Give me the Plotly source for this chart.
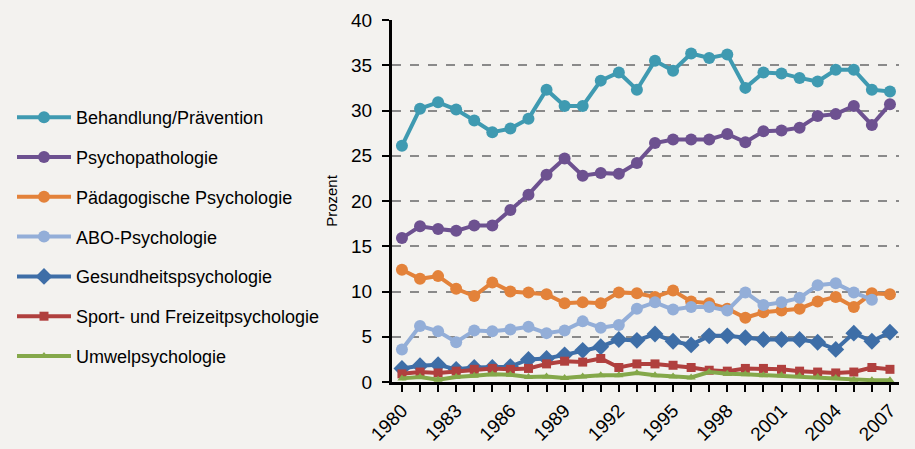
import plotly.graph_objects as go

years = list(range(1980, 2008))

behandlung = [26.1, 30.2, 30.9, 30.1, 28.9, 27.6, 28.0, 29.1, 32.3, 30.5, 30.5, 33.3, 34.2, 32.3,
              35.5, 34.4, 36.3, 35.8, 36.2, 32.5, 34.2, 34.1, 33.6, 33.2, 34.5, 34.5, 32.3, 32.1]
psychopathologie = [15.9, 17.2, 16.9, 16.7, 17.3, 17.3, 19.0, 20.7, 22.9, 24.7, 22.8, 23.1, 23.0, 24.2,
                    26.4, 26.8, 26.8, 26.8, 27.4, 26.5, 27.7, 27.8, 28.1, 29.4, 29.6, 30.5, 28.4, 30.7]
paedagogisch = [12.4, 11.4, 11.7, 10.3, 9.5, 11.0, 10.0, 9.9, 9.7, 8.7, 8.8, 8.7, 9.9, 9.8,
                9.4, 10.1, 8.9, 8.7, 8.1, 7.1, 7.7, 7.9, 8.1, 8.9, 9.4, 8.3, 9.8, 9.7]
abo = [3.6, 6.2, 5.6, 4.4, 5.7, 5.6, 5.8, 6.1, 5.4, 5.7, 6.7, 6.0, 6.3, 8.1,
       8.8, 8.0, 8.3, 8.3, 7.9, 9.9, 8.5, 8.8, 9.3, 10.7, 10.9, 9.9, 9.1, None]
gesundheit = [1.5, 1.8, 1.9, 1.4, 1.6, 1.6, 1.7, 2.5, 2.6, 3.0, 3.5, 3.9, 4.7, 4.6,
              5.3, 4.5, 4.1, 5.1, 5.1, 4.9, 4.7, 4.7, 4.7, 4.4, 3.6, 5.4, 4.5, 5.5]
sport = [0.9, 1.1, 1.0, 1.2, 1.4, 1.5, 1.4, 1.5, 2.0, 2.3, 2.2, 2.6, 1.6, 2.0,
         2.0, 1.85, 1.6, 1.3, 1.2, 1.5, 1.5, 1.4, 1.2, 1.1, 1.0, 1.1, 1.6, 1.4]
umwelt = [0.4, 0.55, 0.25, 0.55, 0.7, 0.85, 0.8, 0.55, 0.6, 0.45, 0.6, 0.75, 0.75, 1.0,
          0.75, 0.6, 0.5, 1.1, 0.9, 0.85, 0.75, 0.75, 0.65, 0.55, 0.45, 0.25, 0.2, 0.2]

names = ["Behandlung/Prävention", "Psychopathologie", "Pädagogische Psychologie",
         "ABO-Psychologie", "Gesundheitspsychologie", "Sport- und Freizeitpsychologie",
         "Umwelpsychologie"]
series = [behandlung, psychopathologie, paedagogisch, abo, gesundheit, sport, umwelt]
colors = ["#3F9AB1", "#6D5190", "#E3823A", "#93AED8", "#3E6EA7", "#B0403E", "#84A84A"]
symbols = ["circle", "circle", "circle", "circle", "diamond", "square", "triangle-up"]
sizes = [12, 12, 12, 12, 13, 9, 8]

tick_labels = [str(y) if (y - 1980) % 3 == 0 else "" for y in years]

FONT = "Liberation Sans, Arial, sans-serif"
BG = "#F3F2EF"

ML, MR, MT, MB = 392, 16, 20, 67
W, H = 915, 449
PW, PH = W - ML - MR, H - MT - MB

fig = go.Figure()
for i, (nm, vals) in enumerate(zip(names, series)):
    fig.add_trace(go.Scatter(
        x=years, y=vals, name=nm, mode="lines+markers",
        line=dict(color=colors[i], width=4),
        marker=dict(symbol=symbols[i], size=sizes[i], color=colors[i]),
        legendgroup=f"g{i}",
    ))

fig.update_layout(
    width=W, height=H,
    margin=dict(l=ML, r=MR, t=MT, b=MB, autoexpand=False),
    paper_bgcolor=BG, plot_bgcolor=BG,
    font=dict(family=FONT, size=18, color="#000000"),
    showlegend=True,
    legend=dict(
        xref="paper", yref="paper",
        x=(12 - ML) / PW, y=1 - (99 - MT) / PH, xanchor="left", yanchor="top",
        bgcolor="rgba(0,0,0,0)", font=dict(family=FONT, size=18, color="#000000"),
        traceorder="grouped", tracegroupgap=13.4, itemwidth=54,
    ),
    xaxis=dict(
        range=[1979.45, 2007.5], tickvals=years, ticktext=tick_labels,
        tickangle=-45, showgrid=False, zeroline=False,
        showline=True, linecolor="#000000", linewidth=3,
        ticks="outside", ticklen=7, tickwidth=2, tickcolor="#000000",
        tickfont=dict(family=FONT, size=19),
    ),
    yaxis=dict(
        range=[0, 40], dtick=5, showgrid=True, gridcolor="#8A8A8A", gridwidth=1.5,
        griddash="dash", zeroline=False,
        showline=True, linecolor="#000000", linewidth=3,
        ticks="outside", ticklen=7, tickwidth=2, tickcolor="#000000",
        tickfont=dict(family=FONT, size=19), ticklabelstandoff=6,
        title=dict(text="Prozent", font=dict(family=FONT, size=15), standoff=10),
    ),
)

fig.write_html(
    "out.html",
    config={"displayModeBar": False},
    post_script="document.body.style.margin='0';document.body.style.background='%s';" % BG,
)
